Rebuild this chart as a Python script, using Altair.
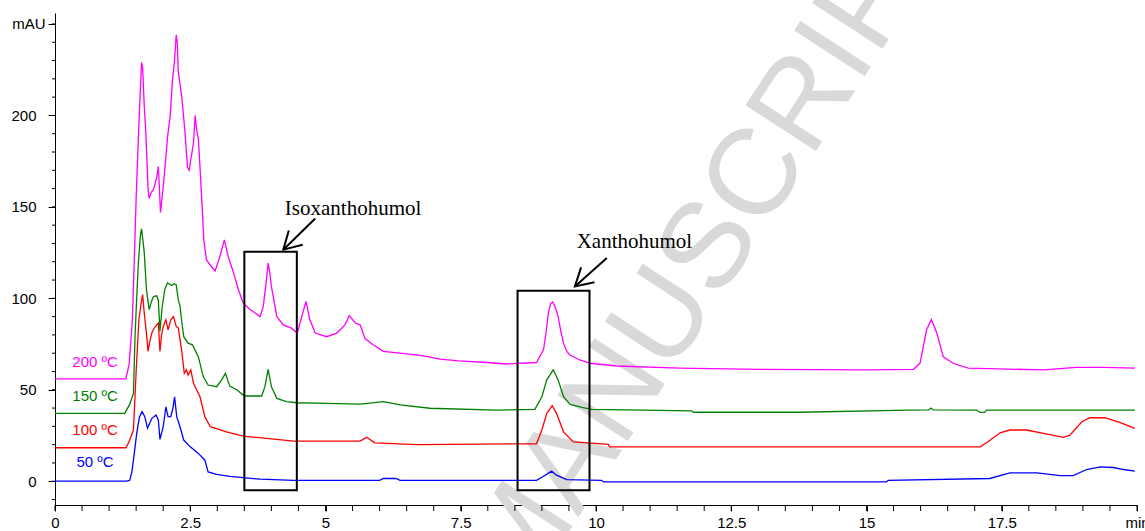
import altair as alt
import pandas as pd

# ---------------- data ----------------
series_names = ["50 ºC", "100 ºC", "150 ºC", "200 ºC"]
series_colors = ["#0000ff", "#ff0000", "#008000", "#ff00ff"]

t_200 = [0, 1.31, 1.37, 1.43, 1.47, 1.50, 1.54, 1.57, 1.60, 1.62, 1.65, 1.68, 1.72, 1.74, 1.78, 1.82,
         1.88, 1.91, 1.93, 1.95, 1.99, 2.03, 2.08, 2.13, 2.17, 2.21, 2.24, 2.26, 2.28, 2.34, 2.40, 2.45,
         2.48, 2.50, 2.56, 2.59, 2.62, 2.65, 2.68, 2.72, 2.75, 2.80, 2.90, 2.96, 3.05, 3.13, 3.20, 3.30,
         3.39, 3.48, 3.60, 3.70, 3.79, 3.85, 3.90, 3.94, 3.97, 4.00, 4.10, 4.22, 4.37, 4.48, 4.56, 4.64,
         4.71, 4.81, 5.02, 5.21, 5.36, 5.44, 5.55, 5.64, 5.73, 5.88, 6.07, 6.50, 6.81, 7.12, 7.46, 7.98,
         8.35, 8.90, 9.03, 9.08, 9.12, 9.16, 9.20, 9.25, 9.30, 9.35, 9.40, 9.46, 9.52, 9.70, 9.89, 10.38,
         11.55, 13.03, 15.00, 15.87, 15.99, 16.11, 16.20, 16.30, 16.42, 16.60, 16.88, 18.27, 18.88, 19.38,
         19.96]
y_200 = [56, 56, 64, 88, 125, 155, 187, 209, 229, 226, 205, 190, 160, 154.6, 158, 159.5,
         166, 172, 160, 147, 158, 170.5, 188, 200, 219, 230, 244, 240, 223.5, 211, 192, 171.5,
         170, 174, 185, 200, 192, 187, 172, 150, 132, 121, 117, 115, 123, 132, 123, 114,
         104.7, 97.4, 94, 92, 90, 95.6, 108, 119.3, 114, 106.5, 90, 85.5, 83.7, 81, 90, 98.3,
         88.3, 81, 79, 81, 85.5, 90.5, 86.5, 85.5, 78, 74.6, 71, 69.6, 68.5, 66.7, 65.8, 64.9,
         64.1, 64.9, 71.8, 82, 92, 97, 98, 95, 90, 82, 75.5, 71, 69, 66.3, 64.5, 63,
         61.8, 61.2, 60.9, 61.2, 64.5, 82.8, 88.3, 81, 68, 64.5, 61.8, 60.9, 62.3, 62.3,
         61.8]

t_150 = [0, 1.29, 1.38, 1.45, 1.48, 1.51, 1.54, 1.58, 1.60, 1.62, 1.65, 1.69, 1.74, 1.78, 1.82, 1.88,
         1.91, 1.94, 1.98, 2.03, 2.08, 2.16, 2.20, 2.24, 2.28, 2.31, 2.34, 2.38, 2.46, 2.54, 2.60, 2.65,
         2.74, 2.83, 2.99, 3.08, 3.15, 3.23, 3.36, 3.48, 3.54, 3.82, 3.88, 3.94, 4.00, 4.10, 4.28, 4.47,
         5.02, 5.64, 6.07, 6.38, 6.93, 8.16, 8.87, 9.00, 9.09, 9.21, 9.30, 9.40, 9.52, 9.74, 9.92, 11.77,
         11.80, 13.77, 15.77, 16.15, 16.19, 16.23, 17.04, 17.10, 17.18, 17.22, 19.96]
y_150 = [37.1, 37.1, 42, 48, 80, 100, 119, 135, 138, 133, 125, 105, 93.8, 98, 101, 101.4,
         99, 82, 95, 105, 108.4, 107, 108, 107.5, 99, 96, 88, 79, 75.5, 74.6, 71, 68,
         57.2, 52.6, 51.7, 55.4, 59, 52, 50, 47.1, 46.6, 46.6, 51.7, 61.2, 51.7, 45.3, 43.5, 42.9,
         42.6, 42.2, 43.5, 41.7, 39.9, 38.9, 39.3, 46.2, 55.4, 60.9, 55.4, 46.2, 42, 40.4, 39.3, 38.5,
         37.7, 37.7, 38.9, 39.0, 40.0, 39.0, 38.9, 37.6, 37.6, 38.9, 38.9]

t_100 = [0, 1.31, 1.36, 1.40, 1.45, 1.50, 1.55, 1.59, 1.62, 1.65, 1.69, 1.72, 1.75, 1.79, 1.84, 1.88,
         1.91, 1.94, 1.97, 2.00, 2.05, 2.09, 2.14, 2.19, 2.24, 2.28, 2.34, 2.39, 2.43, 2.46, 2.51, 2.56,
         2.68, 2.77, 2.87, 3.17, 3.48, 3.91, 4.41, 5.64, 5.76, 5.91, 6.69, 8.90, 9.00, 9.09, 9.19, 9.27,
         9.40, 9.58, 10.23, 10.25, 17.10, 17.22, 17.47, 17.65, 17.96, 18.27, 18.64, 18.76, 18.98, 19.13,
         19.41, 19.69, 19.96]
y_100 = [18.3, 18.3, 21, 24, 28, 60, 88, 97, 102, 92, 81, 71, 76, 81, 84, 85.5,
         86.5, 71, 80, 84.6, 88.3, 82.8, 88.3, 90, 84.6, 83.7, 71.8, 59, 60.9, 58, 60.9, 53.6,
         46.2, 35.3, 29.8, 27, 24.7, 23.4, 21.9, 21.9, 24, 21, 20, 20.5, 28, 37.1, 41.3, 37.1,
         27, 21.5, 20.1, 18.8, 18.8, 21, 26.5, 28, 28, 26.1, 24, 25.2, 32.5, 34.7,
         34.7, 32, 28.9]

t_50 = [0, 1.32, 1.38, 1.42, 1.45, 1.51, 1.56, 1.61, 1.66, 1.71, 1.79, 1.87, 1.91, 1.94, 2.00, 2.05,
        2.09, 2.14, 2.18, 2.21, 2.25, 2.31, 2.38, 2.50, 2.65, 2.77, 2.83, 2.99, 3.23, 3.48, 3.79, 4.41,
        6.00, 6.07, 6.30, 6.38, 8.90, 9.03, 9.18, 9.27, 9.46, 10.10, 10.14, 15.37, 15.40, 17.28, 17.65,
        18.15, 18.58, 18.82, 19.07, 19.32, 19.56, 19.75, 19.96]
y_50 = [0, 0, 0.5, 5, 11.5, 26, 35, 38, 35.3, 29, 34.4, 36.2, 33.4, 22.9, 29.8, 40.7,
        35.3, 35.3, 40, 46.2, 35.3, 29.8, 22.5, 18.8, 15.2, 11.5, 5.1, 3.8, 2.7, 2.0, 1.1, 0.5,
        0.5, 1.5, 1.5, 0.5, 0.5, 2.7, 5.5, 3.3, 0.9, 0.5, -0.4, -0.4, 0.5, 1.5, 4.6,
        4.6, 3.1, 3.1, 6.4, 7.8, 7.5, 6.4, 5.5]

# series labels at the left
label_t = [0.74, 0.74, 0.74, 0.74]
label_y = [10.3, 28.0, 46.8, 65.4]

# boxes around the two compounds
box_t1 = [3.50, 8.55]
box_t2 = [4.47, 9.88]
box_y1 = [-5.0, -5.0]
box_y2 = [125.4, 104.2]

# compound labels and arrows
compound_names = ["Isoxanthohumol", "Xanthohumol"]
compound_t = [5.51, 10.71]
compound_y = [145.8, 127.7]
arrow_tail_t = [4.81, 10.20]
arrow_tail_y = [143.6, 122.1]
arrow_head_t = [4.22, 9.61]
arrow_head_y = [126.6, 106.5]
arrow_angle = [136, 138]

# axis ticks
x_major_ticks = [0, 2.5, 5, 7.5, 10, 12.5, 15, 17.5, 20]
x_minor_ticks = [i * 0.5 for i in range(41)]
y_major_ticks = [0, 50, 100, 150, 200, 250]
y_minor_ticks = list(range(-10, 251, 10))

# ---------------- tables ----------------
rows = []
for name, ts, ys in [("50 ºC", t_50, y_50), ("100 ºC", t_100, y_100),
                     ("150 ºC", t_150, y_150), ("200 ºC", t_200, y_200)]:
    for t, y in zip(ts, ys):
        rows.append({"t": t, "mAU": y, "series": name})
lines_df = pd.DataFrame(rows)

labels_df = pd.DataFrame({"t": label_t, "mAU": label_y, "series": series_names})
boxes_df = pd.DataFrame({"t1": box_t1, "t2": box_t2, "y1": box_y1, "y2": box_y2})
names_df = pd.DataFrame({"t": compound_t, "mAU": compound_y, "name": compound_names})
arrows_df = pd.DataFrame({"t": arrow_tail_t, "y": arrow_tail_y, "t2": arrow_head_t,
                          "y2": arrow_head_y, "angle": arrow_angle})
wm_df = pd.DataFrame({"t": [12.13], "mAU": [129.4], "txt": ["MANUSCRIPT"]})
xminor_df = pd.DataFrame({"t": x_minor_ticks})
yminor_df = pd.DataFrame({"mAU": y_minor_ticks})

x_scale = alt.Scale(domain=[0, 20], nice=False, zero=False)
y_scale = alt.Scale(domain=[-13, 256], nice=False, zero=False)
color_scale = alt.Scale(domain=series_names, range=series_colors)

x_axis = alt.Axis(
    values=x_major_ticks,
    labelExpr="datum.value == 20 ? 'min' : toString(datum.value)",
    title=None, grid=False, tickSize=6, tickColor="black", domainColor="black",
    labelColor="black", labelFont="Liberation Sans", labelFontSize=15,
    labelFlush=False, labelOverlap=False, labelPadding=4, tickWidth=1, domainWidth=1,
)
y_axis = alt.Axis(
    values=y_major_ticks,
    labelExpr="datum.value == 250 ? 'mAU' : toString(datum.value)",
    title=None, grid=False, tickSize=7,
    labelPadding={"condition": {"test": "datum.value == 250", "value": 3}, "value": 12},
    tickColor="black", domainColor="black", labelColor="black",
    labelFont="Liberation Sans", labelFontSize=15, labelOverlap=False, labelFlush=False,
    tickWidth=1, domainWidth=1,
)

X = alt.X("t:Q", scale=x_scale, axis=x_axis)
Y = alt.Y("mAU:Q", scale=y_scale, axis=y_axis)

watermark = alt.Chart(wm_df).mark_text(
    font="Liberation Sans", fontSize=122, color="#d9d9d9", angle=303,
    align="center", baseline="middle"
).encode(x=alt.X("t:Q", scale=x_scale), y=alt.Y("mAU:Q", scale=y_scale), text="txt:N")

lines = alt.Chart(lines_df).mark_line(strokeWidth=1.3).encode(
    x=X, y=Y,
    color=alt.Color("series:N", scale=color_scale, legend=None),
    detail="series:N",
)

xminor = alt.Chart(xminor_df).mark_rule(color="black", strokeWidth=1).encode(
    x=alt.X("t:Q", scale=x_scale), y=alt.value(492), y2=alt.value(498)
)
yminor = alt.Chart(yminor_df).mark_rule(color="black", strokeWidth=1).encode(
    y=alt.Y("mAU:Q", scale=y_scale), x=alt.value(-3), x2=alt.value(0)
)

labels = alt.Chart(labels_df).mark_text(
    font="Liberation Sans", fontSize=15, align="center", baseline="middle"
).encode(
    x=alt.X("t:Q", scale=x_scale), y=alt.Y("mAU:Q", scale=y_scale),
    text="series:N",
    color=alt.Color("series:N", scale=color_scale, legend=None),
)

boxes = alt.Chart(boxes_df).mark_rect(
    fill="transparent", stroke="black", strokeWidth=2
).encode(
    x=alt.X("t1:Q", scale=x_scale), x2="t2:Q",
    y=alt.Y("y1:Q", scale=y_scale), y2="y2:Q",
)

shafts = alt.Chart(arrows_df).mark_rule(color="black", strokeWidth=2).encode(
    x=alt.X("t:Q", scale=x_scale), x2="t2:Q",
    y=alt.Y("y:Q", scale=y_scale), y2="y2:Q",
)

heads = alt.Chart(arrows_df).mark_point(
    shape="M -0.866 -0.5 L 0 0 L -0.866 0.5", size=1600, filled=False,
    color="black", strokeWidth=2, opacity=1
).encode(
    x=alt.X("t2:Q", scale=x_scale), y=alt.Y("y2:Q", scale=y_scale),
    angle=alt.Angle("angle:Q", scale=None),
)

names = alt.Chart(names_df).mark_text(
    font="Liberation Serif", fontSize=21, align="center", baseline="alphabetic", color="black"
).encode(
    x=alt.X("t:Q", scale=x_scale), y=alt.Y("mAU:Q", scale=y_scale), text="name:N"
)

chart = alt.layer(watermark, lines, xminor, yminor, labels, boxes, shafts, heads, names).properties(
    width=1082, height=492,
    autosize=alt.AutoSizeParams(type="none"),
    padding={"left": 55, "top": 13, "right": 8, "bottom": 26},
).configure_view(strokeWidth=0)

chart.save("out.html", embed_options={"renderer": "svg", "actions": False})
